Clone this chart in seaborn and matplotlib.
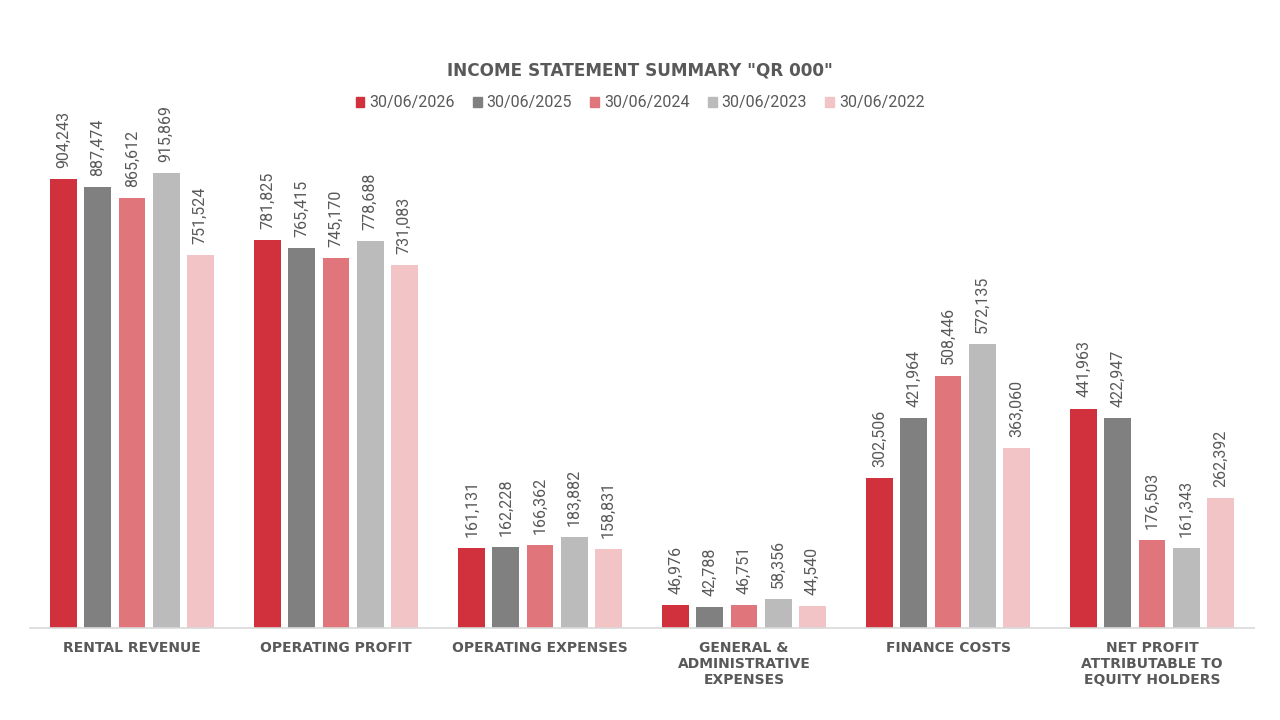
import matplotlib
matplotlib.use("Agg")
import matplotlib.pyplot as plt
import matplotlib.patches as mpatches
import seaborn as sns
import pandas as pd

categories = ["RENTAL REVENUE", "OPERATING PROFIT", "OPERATING EXPENSES",
              "GENERAL &\nADMINISTRATIVE\nEXPENSES", "FINANCE COSTS",
              "NET PROFIT\nATTRIBUTABLE TO\nEQUITY HOLDERS"]
periods = ["30/06/2026", "30/06/2025", "30/06/2024", "30/06/2023", "30/06/2022"]
v2026 = [904243, 781825, 161131, 46976, 302506, 441963]
v2025 = [887474, 765415, 162228, 42788, 421964, 422947]
v2024 = [865612, 745170, 166362, 46751, 508446, 176503]
v2023 = [915869, 778688, 183882, 58356, 572135, 161343]
v2022 = [751524, 731083, 158831, 44540, 363060, 262392]
colors = ["#D1313C", "#808080", "#E0767B", "#BBBBBB", "#F2C4C6"]

series = [v2026, v2025, v2024, v2023, v2022]
rows = []
for p, vals in zip(periods, series):
    for c, v in zip(categories, vals):
        rows.append({"category": c, "period": p, "value": v})
df = pd.DataFrame(rows)

sns.set_theme(style="white")
plt.rcParams['font.family'] = ['DejaVu Sans']

fig = plt.figure(figsize=(12.8, 7.2), dpi=100)
ax = fig.add_axes([30/1280, 92/720, 1224/1280, 488/720])

sns.barplot(data=df, x="category", y="value", hue="period", order=categories,
            hue_order=periods, palette=colors, width=0.835, gap=0.21,
            errorbar=None, ax=ax, legend=False, saturation=1, linewidth=0)

for cont in ax.containers:
    ax.bar_label(cont, fmt="{:,.0f}", rotation=90, padding=8,
                 fontsize=11.5, color="#595959", family="Roboto")

ax.set_ylim(0, 982700)
ax.set_xlim(-0.5, len(categories) - 0.5)
ax.set_xlabel("")
ax.set_ylabel("")
ax.set_yticks([])
for s in ["top", "right", "left"]:
    ax.spines[s].set_visible(False)
ax.spines["bottom"].set_color("#D9D9D9")
ax.spines["bottom"].set_linewidth(1.2)
ax.tick_params(axis="x", length=0, pad=9)
for lbl in ax.get_xticklabels():
    lbl.set_fontsize(10)
    lbl.set_fontweight("bold")
    lbl.set_color("#595959")
    lbl.set_linespacing(1.2)
    lbl.set_va("top")

fig.text(0.5, 1 - 71/720, 'INCOME STATEMENT SUMMARY "QR 000"', ha="center",
         va="center", fontsize=12.2, fontweight="bold", color="#595959")

handles = [mpatches.Patch(color=c, label=p) for c, p in zip(colors, periods)]
fig.legend(handles=handles, loc="center", bbox_to_anchor=(0.5, 1 - 103/720),
           ncol=5, frameon=False, handlelength=0.55, handleheight=0.55,
           handletextpad=0.3, columnspacing=1.15,
           prop={"family": "Roboto", "size": 11.5}, labelcolor="#595959")

fig.savefig("out.png", dpi=100, facecolor="white")
